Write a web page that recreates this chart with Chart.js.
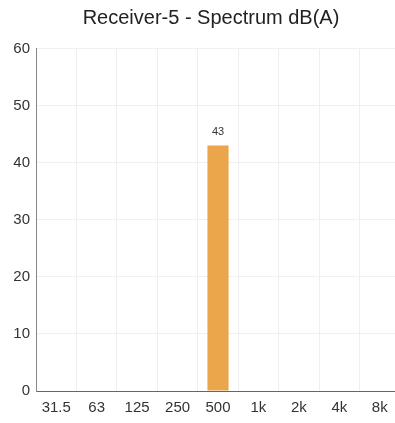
<!DOCTYPE html>
<html>
<head>
<meta charset="utf-8">
<script src="https://cdn.jsdelivr.net/npm/chart.js@4.4.1/dist/chart.umd.min.js"></script>
<style>
  html, body { margin: 0; padding: 0; background: #fff; overflow: hidden; }
  #wrap { width: 402px; height: 423px; }
</style>
</head>
<body>
<div id="wrap"><canvas id="spectrum" width="402" height="423"></canvas></div>
<script>
// Octave band data
const bands = ['31.5', '63', '125', '250', '500', '1k', '2k', '4k', '8k'];
const levels = [null, null, null, null, 43, null, null, null, null];
const yTicks = [0, 10, 20, 30, 40, 50, 60];
const chartTitle = 'Receiver-5 - Spectrum dB(A)';

const ctx = document.getElementById('spectrum').getContext('2d');

// Title and value labels above the bars
const annotate = {
    id: 'annotate',
    afterDraw: (chart) => {
        const { ctx } = chart;
        const meta = chart.getDatasetMeta(0);
        ctx.save();
        ctx.fillStyle = '#222';
        ctx.textAlign = 'center';
        ctx.textBaseline = 'middle';
        ctx.font = '20px Arial, "Liberation Sans"';
        ctx.fillText(chartTitle, 211, 18);

        ctx.font = '11px Arial, "Liberation Sans"';
        ctx.fillStyle = '#333';
        ctx.textBaseline = 'bottom';
        meta.data.forEach((bar, i) => {
            if (levels[i] == null) return;
            ctx.fillText(levels[i], bar.x, bar.y - 8);
        });
        ctx.restore();
    }
};

new Chart(ctx, {
    type: 'bar',
    data: {
        labels: bands,
        datasets: [{
            data: levels,
            backgroundColor: '#EBA54B',
            barPercentage: 0.55,
            categoryPercentage: 0.95
        }]
    },
    options: {
        responsive: false,
        animation: false,
        layout: { padding: { left: 0, right: 2, top: 48.5, bottom: 0 } },
        plugins: {
            legend: { display: false },
            tooltip: { enabled: false },
            title: { display: false }
        },
        scales: {
            x: {
                grid: { color: '#efefef', drawTicks: false },
                border: { color: '#666' },
                ticks: {
                    color: '#333',
                    padding: 8,
                    maxRotation: 0,
                    autoSkip: false,
                    font: { family: 'Arial, "Liberation Sans"', size: 15 }
                },
                afterFit: (scale) => { scale.height = 32; }
            },
            y: {
                min: 0,
                max: 60,
                afterBuildTicks: (scale) => { scale.ticks = yTicks.map(v => ({ value: v })); },
                grid: { color: '#f0f0f0', drawTicks: false },
                border: { color: '#888' },
                ticks: {
                    color: '#333',
                    padding: 6,
                    font: { family: 'Arial, "Liberation Sans"', size: 15 }
                },
                afterFit: (scale) => { scale.width = 36; }
            }
        }
    },
    plugins: [annotate]
});
</script>
</body>
</html>
